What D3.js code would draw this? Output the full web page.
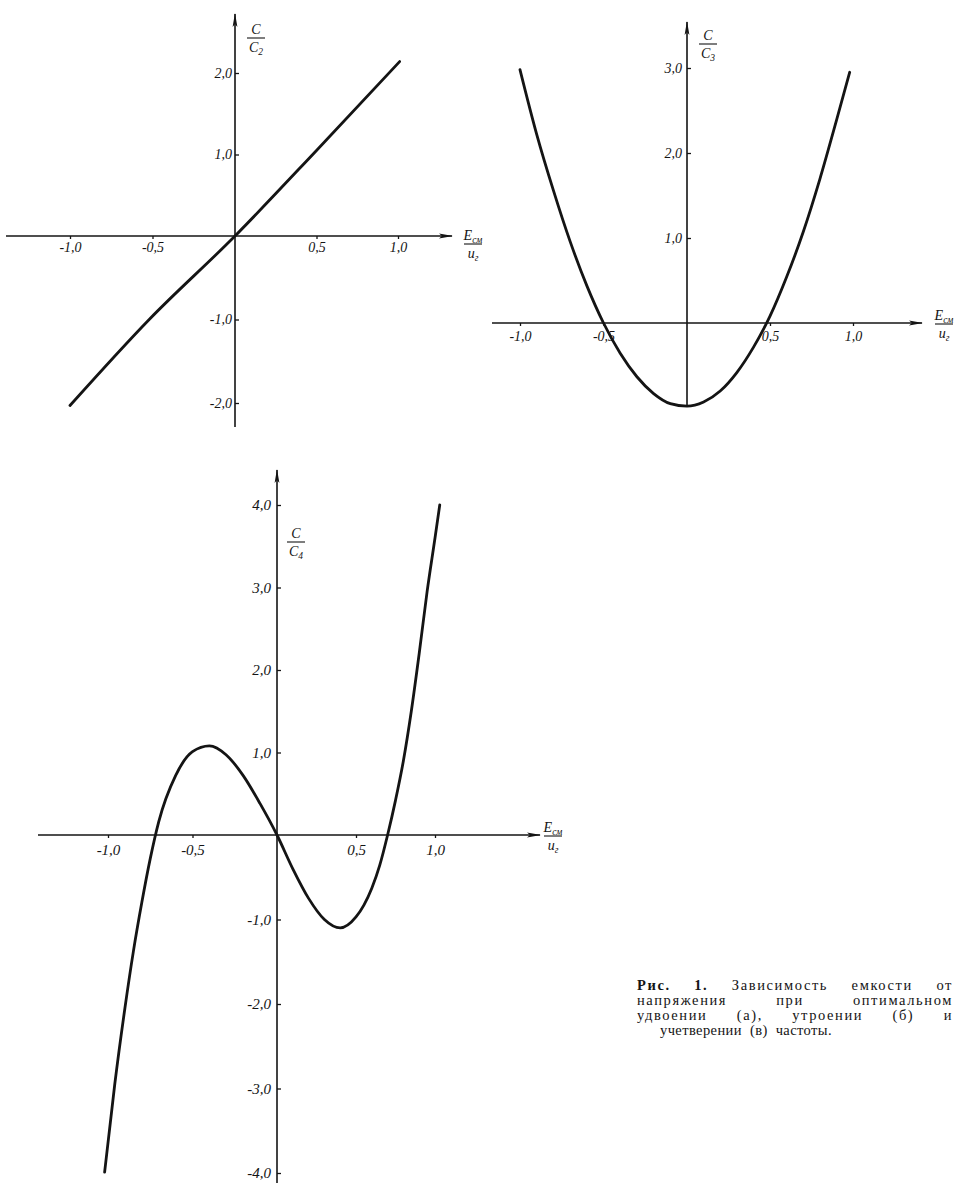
<!DOCTYPE html>
<html>
<head>
<meta charset="utf-8">
<script src="https://cdn.jsdelivr.net/npm/d3@7"></script>
<style>
  body { margin: 0; background: #fff; }
  svg { display: block; }
</style>
</head>
<body>
<script>
// Capacitance ratio C/Cn versus normalised bias E_см/u_г
// (а) doubling, (б) tripling, (в) quadrupling of frequency.
const doublingPts = [[-1.0, -2.03], [-0.52, -1.0], [0, 0], [0.5, 1.05], [1.01, 2.14]];

const triplingPts = [
  [-1.0, 2.98], [-0.9, 2.22], [-0.8, 1.56], [-0.7, 0.96], [-0.6, 0.44], [-0.5, 0.0],
  [-0.4, -0.36], [-0.3, -0.64], [-0.2, -0.84], [-0.1, -0.96], [0, -0.99],
  [0.1, -0.94], [0.2, -0.81], [0.3, -0.59], [0.4, -0.29], [0.5, 0.08], [0.6, 0.54],
  [0.7, 1.07], [0.8, 1.69], [0.9, 2.38], [0.98, 2.95]
];

const quadruplingPts = [
  [-1.02, -3.99], [-0.96, -2.95], [-0.9, -2.05], [-0.85, -1.38], [-0.8, -0.8],
  [-0.75, -0.28], [-0.7, 0.16], [-0.6, 0.72], [-0.5, 1.01], [-0.4, 1.08],
  [-0.3, 0.97], [-0.2, 0.72], [-0.1, 0.38], [0, 0], [0.1, -0.40], [0.2, -0.75],
  [0.3, -1.0], [0.4, -1.10], [0.5, -0.97], [0.55, -0.83], [0.6, -0.63], [0.65, -0.36],
  [0.7, 0.0], [0.75, 0.42], [0.8, 0.9], [0.85, 1.5], [0.9, 2.2], [0.95, 2.95],
  [1.0, 3.6], [1.03, 4.0]
];

const xTicksA = [-1, -0.5, 0.5, 1];
const yTicksA = [-2, -1, 1, 2];
const xTicksB = [-1, -0.5, 0.5, 1];
const yTicksB = [1, 2, 3];
const xTicksC = [-1, -0.5, 0.5, 1];
const yTicksC = [-4, -3, -2, -1, 1, 2, 3, 4];

const captionLines = [
  "Рис. 1. Зависимость емкости от",
  "напряжения при оптимальном",
  "удвоении (а), утроении (б) и",
  "учетверении (в) частоты."
];

const W = 957, H = 1183;
const ink = "#141414";

const svg = d3.select("body").append("svg")
  .attr("width", W).attr("height", H)
  .style("background", "#fff");

const defs = svg.append("defs");
defs.append("marker")
  .attr("id", "arrow")
  .attr("viewBox", "0 0 14 6")
  .attr("refX", 13).attr("refY", 3)
  .attr("markerWidth", 14).attr("markerHeight", 6)
  .attr("markerUnits", "userSpaceOnUse")
  .attr("orient", "auto")
  .append("path")
  .attr("d", "M0,0.6 L14,3 L0,5.4 L3,3 Z")
  .attr("fill", ink);

const fmt = d => d.toFixed(1).replace(".", ",");

const panels = [
  {
    pts: doublingPts, xTicks: xTicksA, yTicks: yTicksA,
    xRange: [70, 235, 398], yDomain: [2, 0, -2], yRange: [73, 236, 403],
    xExt: [6, 452], yExt: [14, 427], tickFont: 14, xPad: 3, yPad: 3,
    yLab: { x: 256, y: 34, sub: "2" }, xLab: { x: 473, y: 240 }
  },
  {
    pts: triplingPts, xTicks: xTicksB, yTicks: yTicksB,
    xRange: [520, 687, 853], yDomain: [3, 0, -1], yRange: [68, 323, 407],
    xExt: [492, 922], yExt: [22, 407], tickFont: 14, xPad: 5, yPad: 5,
    yLab: { x: 708, y: 40, sub: "3" }, xLab: { x: 944, y: 320 }
  },
  {
    pts: quadruplingPts, xTicks: xTicksC, yTicks: yTicksC,
    xRange: [108, 277, 435], yDomain: [4, 0, -4], yRange: [505, 835, 1173],
    xExt: [38, 540], yExt: [470, 1190], tickFont: 15, xPad: 6, yPad: 6,
    yLab: { x: 296, y: 538, sub: "4" }, xLab: { x: 553, y: 832 }
  }
];

function fraction(g, cx, baseY, numParts, denParts, size) {
  const t = g.append("g")
    .attr("font-family", "'Liberation Serif', 'DejaVu Serif', serif")
    .attr("font-style", "italic")
    .attr("font-size", size)
    .attr("fill", ink)
    .attr("text-anchor", "middle");
  const addText = (parts, y) => {
    const tx = t.append("text").attr("x", cx).attr("y", y);
    parts.forEach(([s, sub]) => {
      const ts = tx.append("tspan").text(s);
      if (sub) ts.attr("font-size", size * 0.68).attr("dy", 3);
    });
  };
  addText(numParts, baseY);
  t.append("line")
    .attr("x1", cx - 9).attr("x2", cx + 9)
    .attr("y1", baseY + 4).attr("y2", baseY + 4)
    .attr("stroke", ink).attr("stroke-width", 1.1);
  addText(denParts, baseY + 18);
}

panels.forEach(p => {
  const x = d3.scaleLinear().domain([-1, 0, 1]).range(p.xRange);
  const y = d3.scaleLinear().domain(p.yDomain).range(p.yRange);
  const g = svg.append("g");
  const x0 = x(0), y0 = y(0);

  // axes with arrows
  g.append("line")
    .attr("x1", p.xExt[0]).attr("x2", p.xExt[1])
    .attr("y1", y0).attr("y2", y0)
    .attr("stroke", ink).attr("stroke-width", 1.6)
    .attr("marker-end", "url(#arrow)");
  g.append("line")
    .attr("x1", x0).attr("x2", x0)
    .attr("y1", p.yExt[1]).attr("y2", p.yExt[0])
    .attr("stroke", ink).attr("stroke-width", 1.6)
    .attr("marker-end", "url(#arrow)");

  // tick marks and labels
  const xa = g.append("g").attr("transform", `translate(0,${y0})`)
    .call(d3.axisBottom(x).tickValues(p.xTicks).tickFormat(fmt)
      .tickSize(3).tickPadding(p.xPad));
  const ya = g.append("g").attr("transform", `translate(${x0},0)`)
    .call(d3.axisLeft(y).tickValues(p.yTicks).tickFormat(fmt)
      .tickSize(-4).tickPadding(p.yPad));
  [xa, ya].forEach(a => {
    a.select(".domain").remove();
    a.selectAll(".tick line").attr("stroke", ink).attr("stroke-width", 1.3);
    a.selectAll(".tick text")
      .attr("fill", ink)
      .attr("font-family", "'Liberation Serif', 'DejaVu Serif', serif")
      .attr("font-style", "italic")
      .attr("font-size", p.tickFont);
  });

  // curve
  const line = d3.line()
    .x(d => x(d[0])).y(d => y(d[1]))
    .curve(d3.curveMonotoneX);
  g.append("path")
    .datum(p.pts)
    .attr("d", line)
    .attr("fill", "none")
    .attr("stroke", ink)
    .attr("stroke-width", 2.8)
    .attr("stroke-linecap", "round")
    .attr("stroke-linejoin", "round");

  // axis titles
  fraction(g, p.yLab.x, p.yLab.y, [["C"]], [["C"], [p.yLab.sub, true]], 14);
  fraction(g, p.xLab.x, p.xLab.y, [["E"], ["см", true]], [["u"], ["г", true]], 14);
});

// caption, justified by sharing the slack between letters and word gaps
const cap = svg.append("g")
  .attr("font-family", "'Liberation Serif', 'DejaVu Serif', serif")
  .attr("font-size", 14.5)
  .attr("fill", ink);
const capX = 637, capY = 990, capStep = 15;
const capSpec = [
  { x: capX, w: 316 },
  { x: capX, w: 316 },
  { x: capX, w: 316 },
  { x: capX + 23, w: 172 }
];
captionLines.forEach((s, i) => {
  const t = cap.append("text")
    .attr("x", capSpec[i].x).attr("y", capY + i * capStep);
  if (i === 0) {
    t.append("tspan").attr("font-weight", "bold").text("Рис. 1.");
    t.append("tspan").text(s.slice("Рис. 1.".length));
  } else {
    t.text(s);
  }
  const natural = t.node().getComputedTextLength();
  const gaps = (s.match(/ /g) || []).length;
  const slack = Math.max(0, capSpec[i].w - natural);
  const ls = Math.min(1.6, slack * 0.55 / s.length);
  const rest = slack - ls * s.length;
  t.attr("letter-spacing", ls);
  if (gaps) t.attr("word-spacing", Math.max(0, rest / gaps));
});
</script>
</body>
</html>
